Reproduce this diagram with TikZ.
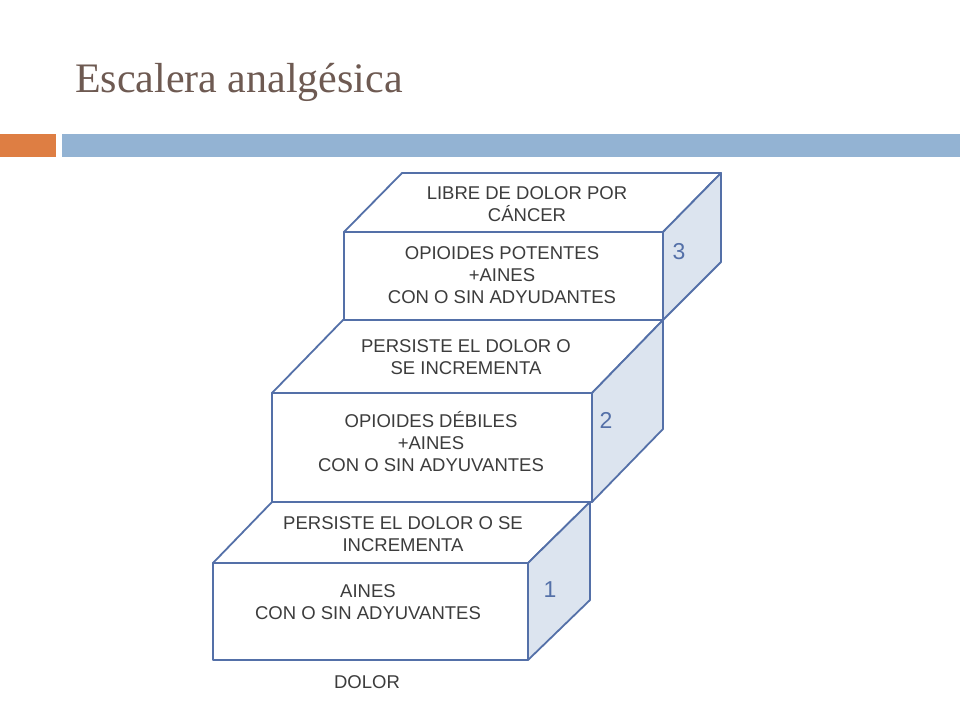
\documentclass[tikz,border=0pt]{standalone}
\usepackage{fontspec}
\setmainfont{Liberation Serif}
\newfontfamily\labelfont{Liberation Sans}
\definecolor{stepblue}{HTML}{5470A8}
\definecolor{sideblue}{HTML}{DCE4EF}
\definecolor{titlecol}{HTML}{6E5A52}
\definecolor{barorange}{HTML}{DE7E43}
\definecolor{barblue}{HTML}{93B3D3}
\definecolor{txtgray}{HTML}{3C3C3C}
\begin{document}
\begin{tikzpicture}[x=1pt,y=-1pt,
  face/.style={draw=stepblue, line width=1.8pt, line join=round, fill=white},
  side/.style={draw=stepblue, line width=1.8pt, line join=round, fill=sideblue},
  lbl/.style={font=\labelfont\fontsize{18.5}{22}\selectfont, text=txtgray, align=center, inner sep=0pt},
  num/.style={font=\labelfont\fontsize{23}{23}\selectfont, text=stepblue, inner sep=0pt}]
\useasboundingbox (0,0) rectangle (960,720);
\fill[white] (0,0) rectangle (960,720);
% title
\node[anchor=base west, inner sep=0pt, text=titlecol, font=\fontsize{42}{42}\selectfont] (title) at (75,92) {Escalera analgésica};
% bars
\fill[barorange] (0,134) rectangle (56,157);
\fill[barblue] (62,134) rectangle (960,157);
% step 1
\filldraw[face] (213,563) -- (272,502) -- (590,502) -- (528,563) -- cycle;
\filldraw[side] (528,563) -- (590,502) -- (590,600) -- (528,660) -- cycle;
\filldraw[face] (213,563) rectangle (528,660);
% step 2
\filldraw[face] (272,393) -- (343,320) -- (663,320) -- (592,393) -- cycle;
\filldraw[side] (592,393) -- (663,320) -- (663,429) -- (592,502) -- cycle;
\filldraw[face] (272,393) rectangle (592,502);
% step 3
\filldraw[face] (344,232) -- (402,173) -- (721,173) -- (663,232) -- cycle;
\filldraw[side] (663,232) -- (721,173) -- (721,262) -- (663,320) -- cycle;
\filldraw[face] (344,232) rectangle (663,320);
% labels step 3
\node[lbl] (t3) at (527,204) {LIBRE DE DOLOR POR\\CÁNCER};
\node[lbl] (f3) at (502,275) {OPIOIDES POTENTES\\+AINES\\CON O SIN ADYUDANTES};
\node[num] (n3) at (679,252) {3};
% labels step 2
\node[lbl] (t2) at (466,357) {PERSISTE EL DOLOR O\\SE INCREMENTA};
\node[lbl] (f2) at (431,442) {OPIOIDES DÉBILES\\+AINES\\CON O SIN ADYUVANTES};
\node[num] (n2) at (606,420) {2};
% labels step 1
\node[lbl] (t1) at (403,534) {PERSISTE EL DOLOR O SE\\INCREMENTA};
\node[lbl] (f1) at (368,602) {AINES\\CON O SIN ADYUVANTES};
\node[num] (n1) at (550,590) {1};
\node[lbl] (dolor) at (367,682) {DOLOR};
\end{tikzpicture}
\end{document}
